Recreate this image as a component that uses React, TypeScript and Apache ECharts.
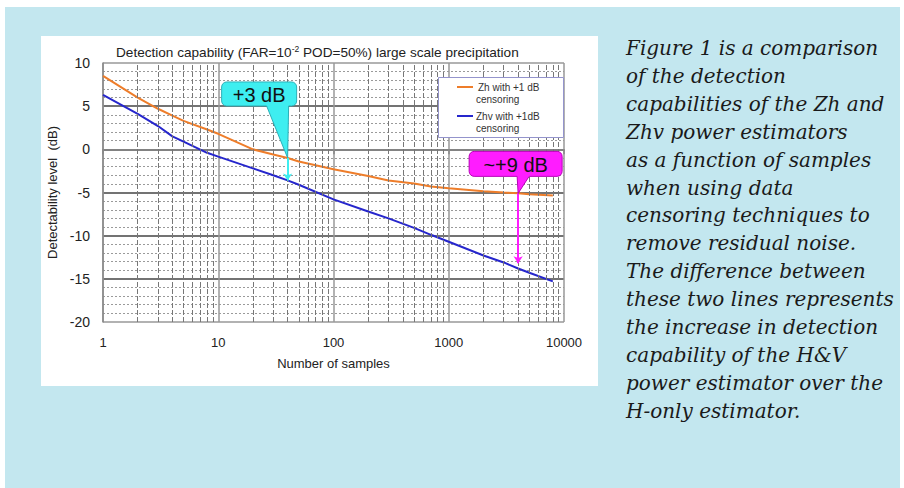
import React, { useEffect, useRef } from "react";
import * as echarts from "echarts";

const sampleCounts = [1, 2, 3, 4, 5, 8, 10, 20, 30, 40, 50, 100, 200, 300, 500, 700, 1000, 2000, 3000, 4000, 5000, 8000];
const zhValues = [8.5, 6.0, 4.7, 3.9, 3.3, 2.3, 1.8, 0.0, -0.6, -1.0, -1.4, -2.3, -3.1, -3.6, -3.95, -4.3, -4.5, -4.85, -5.0, -5.1, -5.2, -5.35];
const zhvValues = [6.3, 4.1, 2.7, 1.5, 0.9, -0.4, -0.85, -2.2, -3.0, -3.6, -4.1, -5.8, -7.2, -8.0, -9.1, -9.9, -10.7, -12.3, -13.1, -13.8, -14.3, -15.3];
const minorXGrid = [2, 3, 4, 5, 6, 7, 8, 9, 20, 30, 40, 50, 60, 70, 80, 90, 200, 300, 400, 500, 600, 700, 800, 900, 2000, 3000, 4000, 5000, 6000, 7000, 8000, 9000];
const seriesNames = ["Zh with +1 dB censoring", "Zhv with +1dB censoring"];
const legendLines = [["Zh with +1 dB", "censoring"], ["Zhv with +1dB", "censoring"]];
const arrowX = [40, 4000];
const arrowFrom = [-1.0, -5.1];
const arrowTo = [-3.6, -13.2];
const calloutLabels = ["+3 dB", "~+9 dB"];
const paragraph = [
  "Figure 1 is a comparison",
  "of the detection",
  "capabilities of the Zh and",
  "Zhv power estimators",
  "as a function of samples",
  "when using data",
  "censoring techniques to",
  "remove residual noise.",
  "The difference between",
  "these two lines represents",
  "the increase in detection",
  "capability of the H&V",
  "power estimator over the",
  "H-only estimator.",
];

const ORANGE = "#ee7d2a";
const BLUE = "#2626cc";
const CYAN = "#3eeef0";
const MAGENTA = "#ff1cff";
const SANS = '"Liberation Sans", Arial, sans-serif';

function calloutPoints(l: number, t: number, r: number, b: number, rad: number, tailL: number, tailR: number, tip: number[]) {
  const pts: number[][] = [];
  const arc = (cx: number, cy: number, a0: number, a1: number) => {
    for (let i = 0; i <= 4; i++) {
      const a = ((a0 + ((a1 - a0) * i) / 4) * Math.PI) / 180;
      pts.push([cx + rad * Math.cos(a), cy + rad * Math.sin(a)]);
    }
  };
  arc(l + rad, t + rad, 180, 270);
  arc(r - rad, t + rad, 270, 360);
  arc(r - rad, b - rad, 0, 90);
  pts.push([tailR, b]);
  pts.push(tip);
  pts.push([tailL, b]);
  arc(l + rad, b - rad, 90, 180);
  return pts;
}

export default function App() {
  const ref = useRef<HTMLDivElement>(null);
  useEffect(() => {
    if (!ref.current) return;
    const chart = echarts.init(ref.current, undefined, { renderer: "svg" });
    const option: any = {
      animation: false,
      backgroundColor: "transparent",
      title: {
        left: 116,
        top: 44,
        padding: 0,
        text: "{a|Detection capability (FAR=10}{s|-2}{a| POD=50%) large scale precipitation}",
        textStyle: {
          fontWeight: "normal",
          rich: {
            a: { fontFamily: SANS, fontSize: 13.6, fontWeight: "normal", color: "#222", lineHeight: 16 },
            s: { fontFamily: SANS, fontSize: 8.5, fontWeight: "normal", color: "#222", verticalAlign: "top", lineHeight: 16, padding: [0, 0, 8, 0] },
          },
        },
      },
      grid: { left: 103, top: 63, right: 340, bottom: 166, containLabel: false },
      xAxis: {
        type: "log",
        logBase: 10,
        min: 1,
        max: 10000,
        name: "Number of samples",
        nameLocation: "middle",
        nameGap: 35,
        nameTextStyle: { fontFamily: SANS, fontSize: 13, color: "#222" },
        axisLine: { show: true, lineStyle: { color: "#888", width: 1.5 } },
        axisTick: { show: true, length: 5, lineStyle: { color: "#888", width: 1.5 } },
        axisLabel: {
          fontFamily: SANS,
          fontSize: 13,
          color: "#222",
          margin: 14,
          formatter: (v: number) => String(Math.round(v)),
        },
        splitLine: { show: true, lineStyle: { color: "#999", width: 1.5 } },
      },
      yAxis: {
        type: "value",
        min: -20,
        max: 10,
        interval: 5,
        name: "Detectability level  (dB)",
        nameLocation: "middle",
        nameGap: 40,
        nameTextStyle: { fontFamily: SANS, fontSize: 13, color: "#222" },
        axisLine: { show: true, lineStyle: { color: "#888", width: 1.5 } },
        axisTick: { show: false },
        axisLabel: { fontFamily: SANS, fontSize: 14, color: "#222", margin: 13 },
        splitLine: {
          show: true,
          lineStyle: { color: ["#999", "#444", "#444", "#444", "#444", "#444", "#999"], width: 1.5 },
        },
        minorTick: { show: false, splitNumber: 5 },
        minorSplitLine: { show: true, lineStyle: { color: "#9a9a9a", width: 1, type: [2, 2] } },
      },
      series: [
        {
          type: "line",
          name: "grid",
          data: [],
          z: 1,
          silent: true,
          markLine: {
            silent: true,
            symbol: ["none", "none"],
            label: { show: false },
            lineStyle: { color: "#777", width: 1, type: [5, 2] },
            data: minorXGrid.map((v) => ({ xAxis: v })),
          },
        },
        {
          type: "line",
          name: seriesNames[0],
          data: sampleCounts.map((x, i) => [x, zhValues[i]]),
          showSymbol: false,
          lineStyle: { color: ORANGE, width: 2 },
          itemStyle: { color: ORANGE },
          z: 3,
        },
        {
          type: "line",
          name: seriesNames[1],
          data: sampleCounts.map((x, i) => [x, zhvValues[i]]),
          showSymbol: false,
          lineStyle: { color: BLUE, width: 2 },
          itemStyle: { color: BLUE },
          z: 3,
          markLine: {
            silent: true,
            symbol: ["none", "arrow"],
            symbolSize: 7,
            label: { show: false },
            data: arrowX.map((x, i) => [
              { coord: [x, arrowFrom[i]], lineStyle: { color: i === 0 ? CYAN : MAGENTA, width: 2, type: "solid" }, itemStyle: { color: i === 0 ? CYAN : MAGENTA } },
              { coord: [x, arrowTo[i]] },
            ]),
          },
        },
      ],
    };
    chart.setOption(option);

    const graphics: any[] = [];
    // legend box
    graphics.push({
      type: "rect",
      z: 50,
      shape: { x: 438.5, y: 77.5, width: 125, height: 60 },
      style: { fill: "#fff", stroke: "#9494cc", lineWidth: 1 },
    });
    const legendColors = [ORANGE, BLUE];
    const legendY = [87, 116];
    legendLines.forEach((lines, i) => {
      graphics.push({
        type: "line",
        z: 51,
        shape: { x1: 457, y1: legendY[i], x2: 473, y2: legendY[i] },
        style: { stroke: legendColors[i], lineWidth: 2 },
      });
      lines.forEach((t, j) => {
        graphics.push({
          type: "text",
          z: 51,
          x: i === 0 && j === 0 ? 478 : 476,
          y: legendY[i] + j * 12.5,
          style: { text: t, fontFamily: SANS, fontSize: 10, fill: "#333", verticalAlign: "middle", align: "left" },
        });
      });
    });

    // callouts
    const fills = [CYAN, MAGENTA];
    const strokes = ["#2cb0b8", "#b800b8"];
    const geo = [
      { l: -66, r: 9, t: -76, b: -52, tl: -21, tr: 1 },
      { l: -49, r: 44, t: -42, b: -17, tl: -1, tr: 11 },
    ];
    arrowX.forEach((x, i) => {
      const tip = chart.convertToPixel({ xAxisIndex: 0, yAxisIndex: 0 }, [x, arrowFrom[i]]) as number[];
      const g = geo[i];
      const l = tip[0] + g.l, r = tip[0] + g.r, t = tip[1] + g.t, b = tip[1] + g.b;
      graphics.push({
        type: "polygon",
        z: 60,
        shape: { points: calloutPoints(l, t, r, b, 5, tip[0] + g.tl, tip[0] + g.tr, tip) },
        style: { fill: fills[i], stroke: strokes[i], lineWidth: 1 },
      });
      graphics.push({
        type: "text",
        z: 61,
        x: (l + r) / 2,
        y: (t + b) / 2 + 1,
        style: { text: calloutLabels[i], fontFamily: SANS, fontSize: 20, fill: "#111", align: "center", verticalAlign: "middle" },
      });
    });

    // paragraph
    paragraph.forEach((line, i) => {
      graphics.push({
        type: "text",
        z: 10,
        x: 626,
        y: 48 + i * 27.9,
        style: {
          text: line,
          fontFamily: '"DejaVu Serif", serif',
          fontStyle: "italic",
          fontSize: 20,
          fill: "#1a1a1a",
          align: "left",
          verticalAlign: "middle",
        },
      });
    });

    chart.setOption({ graphic: graphics });
    return () => chart.dispose();
  }, []);

  return (
    <div style={{ position: "absolute", left: 0, top: 0, width: 904, height: 488, background: "#fff", overflow: "hidden" }}>
      <div style={{ position: "absolute", left: 5, top: 7, width: 895, height: 481, background: "#c3e7ef" }} />
      <div style={{ position: "absolute", left: 41, top: 36, width: 557, height: 350, background: "#fff" }} />
      <div ref={ref} style={{ position: "absolute", left: 0, top: 0, width: 904, height: 488 }} />
    </div>
  );
}
